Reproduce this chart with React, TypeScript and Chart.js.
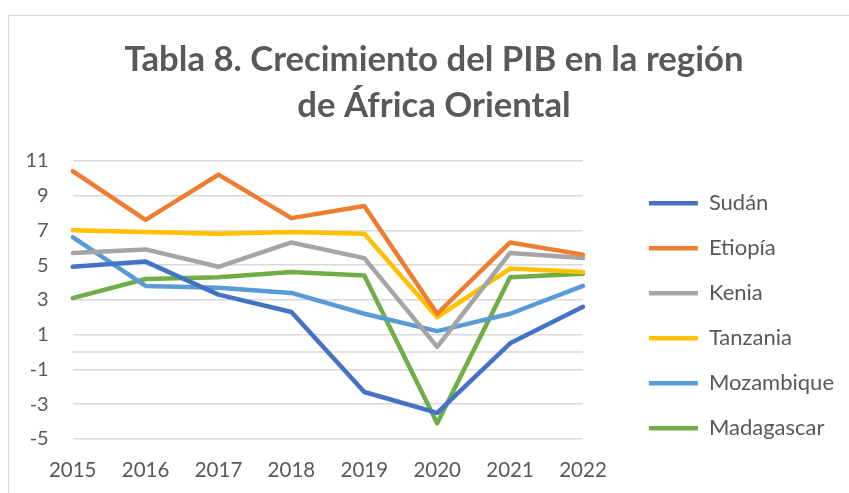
import React, { useEffect, useRef } from "react";
import { Chart, registerables } from "chart.js";

Chart.register(...registerables);

const years = ["2015", "2016", "2017", "2018", "2019", "2020", "2021", "2022"];
const sudan = [4.9, 5.2, 3.3, 2.3, -2.3, -3.5, 0.5, 2.6];
const etiopia = [10.4, 7.6, 10.2, 7.7, 8.4, 2.2, 6.3, 5.6];
const kenia = [5.7, 5.9, 4.9, 6.3, 5.4, 0.3, 5.7, 5.4];
const tanzania = [7.0, 6.9, 6.8, 6.9, 6.8, 2.0, 4.8, 4.6];
const mozambique = [6.6, 3.8, 3.7, 3.4, 2.2, 1.2, 2.2, 3.8];
const madagascar = [3.1, 4.2, 4.3, 4.6, 4.4, -4.1, 4.3, 4.5];

const seriesNames = ["Sudán", "Etiopía", "Kenia", "Tanzania", "Mozambique", "Madagascar"];
const seriesValues = [sudan, etiopia, kenia, tanzania, mozambique, madagascar];
const seriesColors = ["#4472C4", "#ED7D31", "#A5A5A5", "#FFC000", "#5B9BD5", "#70AD47"];

const yTickValues = [-5, -3, -1, 1, 3, 5, 7, 9, 11];
const titleLines = ["Tabla 8. Crecimiento del PIB en la región", "de África Oriental"];

const TEXT = "#595959";
const GRID = "#d9d9d9";
const CANVAS_W = 849;
const CANVAS_H = 493;
const PAD = { left: 24, right: 5, top: 0, bottom: 0 };
const PLOT_LEFT = 72.7;
const PLOT_RIGHT = 583;

const zeroLine = {
  id: "zeroLine",
  beforeDatasetsDraw(chart: any) {
    const { ctx, chartArea, scales } = chart;
    const y = scales.y.getPixelForValue(0);
    ctx.save();
    ctx.strokeStyle = GRID;
    ctx.lineWidth = 1.5;
    ctx.beginPath();
    ctx.moveTo(chartArea.left, y);
    ctx.lineTo(chartArea.right, y);
    ctx.stroke();
    ctx.restore();
  },
};

export default function App() {
  const ref = useRef<HTMLCanvasElement | null>(null);

  useEffect(() => {
    document.body.style.margin = "0";
    if (!ref.current) return;
    const chart = new Chart(ref.current, {
      type: "line",
      data: {
        labels: years,
        datasets: seriesNames.map((name, i) => ({
          label: name,
          data: seriesValues[i],
          borderColor: seriesColors[i],
          backgroundColor: seriesColors[i],
          borderWidth: 4.5,
          pointRadius: 0,
          pointHoverRadius: 0,
          tension: 0,
          fill: false,
          borderJoinStyle: "round",
          borderCapStyle: "round",
        })),
      },
      options: {
        responsive: false,
        animation: false,
        layout: { padding: PAD },
        plugins: {
          tooltip: { enabled: false },
          title: {
            display: true,
            text: titleLines,
            color: TEXT,
            font: { family: "Lato, sans-serif", size: 34.7, weight: "bold", lineHeight: "46px" },
            padding: { top: 37, bottom: 31.7 },
          },
          legend: {
            position: "right",
            align: "start",
            maxWidth: 300,
            title: { display: true, text: "", padding: { top: 169.3, bottom: 0 }, font: { size: 1, lineHeight: 0 } },
            labels: {
              usePointStyle: true,
              pointStyle: "line",
              pointStyleWidth: 49,
              boxHeight: 22,
              padding: 23,
              color: TEXT,
              font: { family: "Lato, sans-serif", size: 22 },
            },
          },
        },
        scales: {
          x: {
            grid: { display: false, drawTicks: false },
            border: { display: false },
            afterFit: (scale: any) => {
              scale.height = 54;
            },
            ticks: {
              color: TEXT,
              font: { family: "Lato, sans-serif", size: 20.5 },
              padding: 19,
              maxRotation: 0,
              autoSkip: false,
            },
          },
          y: {
            position: "left",
            min: -5,
            max: 11,
            afterBuildTicks: (scale: any) => {
              scale.ticks = yTickValues.map((v) => ({ value: v }));
            },
            afterFit: (scale: any) => {
              scale.width = PLOT_LEFT - PAD.left;
            },
            grid: { color: GRID, lineWidth: 1.5, drawTicks: false },
            border: { display: false },
            ticks: {
              color: TEXT,
              font: { family: "Lato, sans-serif", size: 20 },
              padding: 24,
            },
          },
          spacer: {
            type: "linear",
            position: "right",
            display: true,
            grid: { display: false, drawTicks: false },
            border: { display: false },
            ticks: { display: false },
            afterFit: (scale: any) => {
              const lw = scale.chart.legend ? scale.chart.legend.width : 218;
              scale.width = Math.max(0, CANVAS_W - PAD.right - lw - PLOT_RIGHT);
            },
          },
        },
      },
      plugins: [zeroLine],
    } as any);
    return () => chart.destroy();
  }, []);

  return (
    <div style={{ position: "fixed", left: 0, top: 0, width: CANVAS_W, height: CANVAS_H, overflow: "hidden", background: "#fff" }}>
      <div
        style={{
          position: "absolute",
          left: 8,
          top: 15,
          width: 1000,
          height: 1000,
          border: "1px solid #d9d9d9",
          boxSizing: "border-box",
        }}
      />
      <canvas
        ref={ref}
        width={CANVAS_W}
        height={CANVAS_H}
        style={{ position: "absolute", left: 0, top: 0, width: CANVAS_W, height: CANVAS_H }}
      />
    </div>
  );
}
